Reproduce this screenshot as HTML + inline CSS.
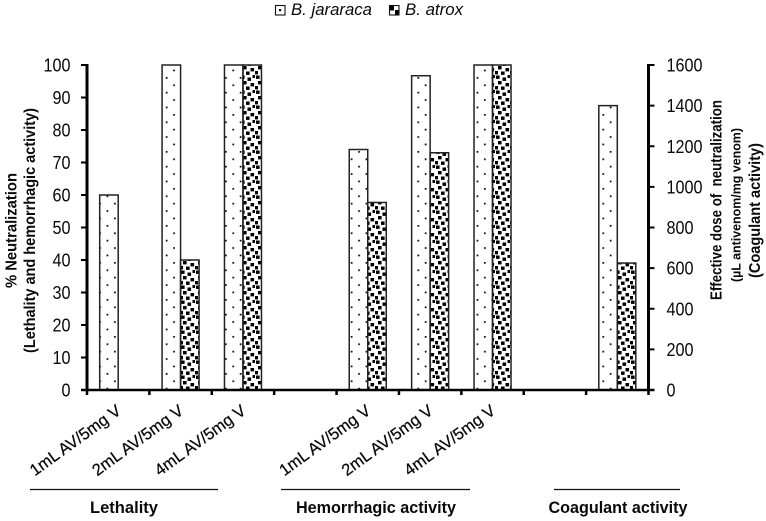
<!DOCTYPE html>
<html>
<head>
<meta charset="utf-8">
<style>
html,body{margin:0;padding:0;background:#fff;}
svg{display:block;}
text{font-family:"Liberation Sans",sans-serif;fill:#0a0a0a;}
</style>
</head>
<body>
<svg id="chart" xmlns="http://www.w3.org/2000/svg" width="766" height="521" viewBox="0 0 766 521">
<defs>
<pattern id="dots" patternUnits="userSpaceOnUse" width="14.8" height="14.8">
<rect x="3" y="3" width="1.7" height="1.7" fill="#000"/>
<rect x="10.4" y="10.4" width="1.7" height="1.7" fill="#000"/>
</pattern>
<pattern id="confetti" patternUnits="userSpaceOnUse" width="15" height="15">
<rect x="1" y="0.5" width="3.6" height="3.4" fill="#000"/>
<rect x="7.5" y="2.5" width="3.6" height="3.4" fill="#000"/>
<rect x="12.5" y="0" width="2.5" height="3" fill="#000"/>
<rect x="3" y="6" width="3.6" height="3.4" fill="#000"/>
<rect x="10.5" y="8" width="3.6" height="3.4" fill="#000"/>
<rect x="0" y="11" width="3" height="3.4" fill="#000"/>
<rect x="6" y="11.5" width="3.6" height="3.4" fill="#000"/>
</pattern>
</defs>
<g id="bars"></g>
<g id="axes"></g>

<g>
<rect x="275.5" y="5.5" width="9.5" height="9.5" fill="#fff" stroke="#111" stroke-width="1.1"/>
<rect x="279" y="9" width="2.2" height="2.2" fill="#111"/>
<text x="291" y="15" font-size="17" font-style="italic" textLength="81" lengthAdjust="spacingAndGlyphs">B. jararaca</text>
<rect x="389.5" y="5.5" width="9.5" height="9.5" fill="#fff" stroke="#111" stroke-width="1.1"/>
<rect x="390" y="6" width="4" height="4.5" fill="#000"/>
<rect x="395" y="10" width="4" height="4.5" fill="#000"/>
<text x="405" y="15" font-size="17" font-style="italic" textLength="58" lengthAdjust="spacingAndGlyphs">B. atrox</text>
</g>

<text transform="translate(16.5,230.5) rotate(-90)" text-anchor="middle" font-size="15.5" font-weight="bold" textLength="115" lengthAdjust="spacingAndGlyphs">% Neutralization</text>
<text transform="translate(35,230.5) rotate(-90)" text-anchor="middle" font-size="15.5" font-weight="bold" textLength="245" lengthAdjust="spacingAndGlyphs">(Lethality and hemorrhagic activity)</text>
<text transform="translate(721.5,200) rotate(-90)" text-anchor="middle" font-size="15.5" font-weight="bold" textLength="200" lengthAdjust="spacingAndGlyphs">Effective dose of&#160; neutralization</text>
<text transform="translate(740.5,205) rotate(-90)" text-anchor="middle" font-size="12.5" font-weight="bold" textLength="154" lengthAdjust="spacingAndGlyphs">(µL antivenom/mg venom)</text>
<text transform="translate(760,210.5) rotate(-90)" text-anchor="middle" font-size="15.5" font-weight="bold" textLength="135" lengthAdjust="spacingAndGlyphs">(Coagulant activity)</text>

<line x1="30" y1="489.5" x2="218" y2="489.5" stroke="#111" stroke-width="1.2"/>
<line x1="281" y1="489.5" x2="470" y2="489.5" stroke="#111" stroke-width="1.2"/>
<line x1="554" y1="489.5" x2="680" y2="489.5" stroke="#111" stroke-width="1.2"/>
<text x="124" y="513" text-anchor="middle" font-size="16.5" font-weight="bold" textLength="68" lengthAdjust="spacingAndGlyphs">Lethality</text>
<text x="376" y="513" text-anchor="middle" font-size="16.5" font-weight="bold" textLength="160" lengthAdjust="spacingAndGlyphs">Hemorrhagic activity</text>
<text x="618" y="513" text-anchor="middle" font-size="16.5" font-weight="bold" textLength="139" lengthAdjust="spacingAndGlyphs">Coagulant activity</text>
</svg>
<script>
var categories = ["1mL AV/5mg V", "2mL AV/5mg V", "4mL AV/5mg V", "", "1mL AV/5mg V", "2mL AV/5mg V", "4mL AV/5mg V", "", ""];
var jararacaPercent = [60, 100, 100, null, 74, 96.7, 100, null, null];
var atroxPercent = [null, 40, 100, null, 57.7, 73, 100, null, null];
var jararacaDose = [null, null, null, null, null, null, null, null, 1400];
var atroxDose = [null, null, null, null, null, null, null, null, 625];
var leftTicks = [0, 10, 20, 30, 40, 50, 60, 70, 80, 90, 100];
var rightTicks = [0, 200, 400, 600, 800, 1000, 1200, 1400, 1600];

var NS = "http://www.w3.org/2000/svg";
var plotLeft = 87, plotRight = 648.5, plotTop = 65, plotBottom = 390;
var barWidth = 18.5;
function yLeft(v) { return plotBottom - (v / 100) * (plotBottom - plotTop); }
function yRight(v) { return plotBottom - (v / 1600) * (plotBottom - plotTop); }
function xEdge(i) { return plotLeft + i * (plotRight - plotLeft) / categories.length; }
function xCenter(i) { return xEdge(i + 0.5); }
function make(tag, parent, attrs) {
  var el = document.createElementNS(NS, tag);
  for (var k in attrs) el.setAttribute(k, attrs[k]);
  parent.appendChild(el);
  return el;
}
var barsG = document.getElementById("bars");
var axesG = document.getElementById("axes");
function drawBar(i, offset, top, fill, name) {
  var bar = make("rect", barsG, {
    x: xCenter(i) + offset, y: top, width: barWidth, height: plotBottom - top,
    fill: fill, stroke: "#222", "stroke-width": 1.5
  });
  
  
}
categories.forEach(function (c, i) {
  if (jararacaPercent[i] !== null) drawBar(i, -barWidth, yLeft(jararacaPercent[i]), "url(#dots)", "bar-jararaca-percent");
  if (atroxPercent[i] !== null) drawBar(i, 0, yLeft(atroxPercent[i]), "url(#confetti)", "bar-atrox-percent");
  if (jararacaDose[i] !== null) drawBar(i, -barWidth, yRight(jararacaDose[i]), "url(#dots)", "bar-jararaca-dose");
  if (atroxDose[i] !== null) drawBar(i, 0, yRight(atroxDose[i]), "url(#confetti)", "bar-atrox-dose");
});
var leftAxis = make("line", axesG, { x1: plotLeft, y1: plotTop - 1, x2: plotLeft, y2: plotBottom + 1, stroke: "#000", "stroke-width": 3 });


var rightAxis = make("line", axesG, { x1: plotRight, y1: plotTop - 1, x2: plotRight, y2: plotBottom + 1, stroke: "#000", "stroke-width": 3 });


var xAxis = make("line", axesG, { x1: plotLeft - 6, y1: plotBottom, x2: plotRight + 6, y2: plotBottom, stroke: "#000", "stroke-width": 2.5 });


leftTicks.forEach(function (t) {
  var y = yLeft(t);
  var tick = make("line", axesG, { x1: plotLeft - 6, y1: y, x2: plotLeft, y2: y, stroke: "#000", "stroke-width": 2 });
  
  
  var width = String(t).length * 9;
  var label = make("text", axesG, { x: 70.5 - width, y: y + 6.5, "font-size": 18.5, textLength: width, lengthAdjust: "spacingAndGlyphs" });
  
  
  label.textContent = t;
});
rightTicks.forEach(function (t) {
  var y = yRight(t);
  var tick = make("line", axesG, { x1: plotRight, y1: y, x2: plotRight + 6, y2: y, stroke: "#000", "stroke-width": 2 });
  
  
  var rwidth = String(t).length * 9;
  var label = make("text", axesG, { x: 666.5, y: y + 6.5, "font-size": 18.5, textLength: rwidth, lengthAdjust: "spacingAndGlyphs" });
  
  
  label.textContent = t;
});
for (var e = 0; e <= categories.length; e++) {
  var xt = make("line", axesG, { x1: xEdge(e), y1: plotBottom, x2: xEdge(e), y2: plotBottom + 5, stroke: "#000", "stroke-width": 2.5 });
  
  
}
categories.forEach(function (c, i) {
  if (!c) return;
  var px = xCenter(i) + 4, py = 413;
  var lab = make("text", axesG, {
    transform: "translate(" + px + "," + py + ") rotate(-36)",
    "text-anchor": "end", "font-size": 16.5, textLength: 108, lengthAdjust: "spacingAndGlyphs",
    stroke: "#0a0a0a", "stroke-width": 0.25
  });
  
  
  lab.textContent = c;
});
</script>
</body>
</html>
